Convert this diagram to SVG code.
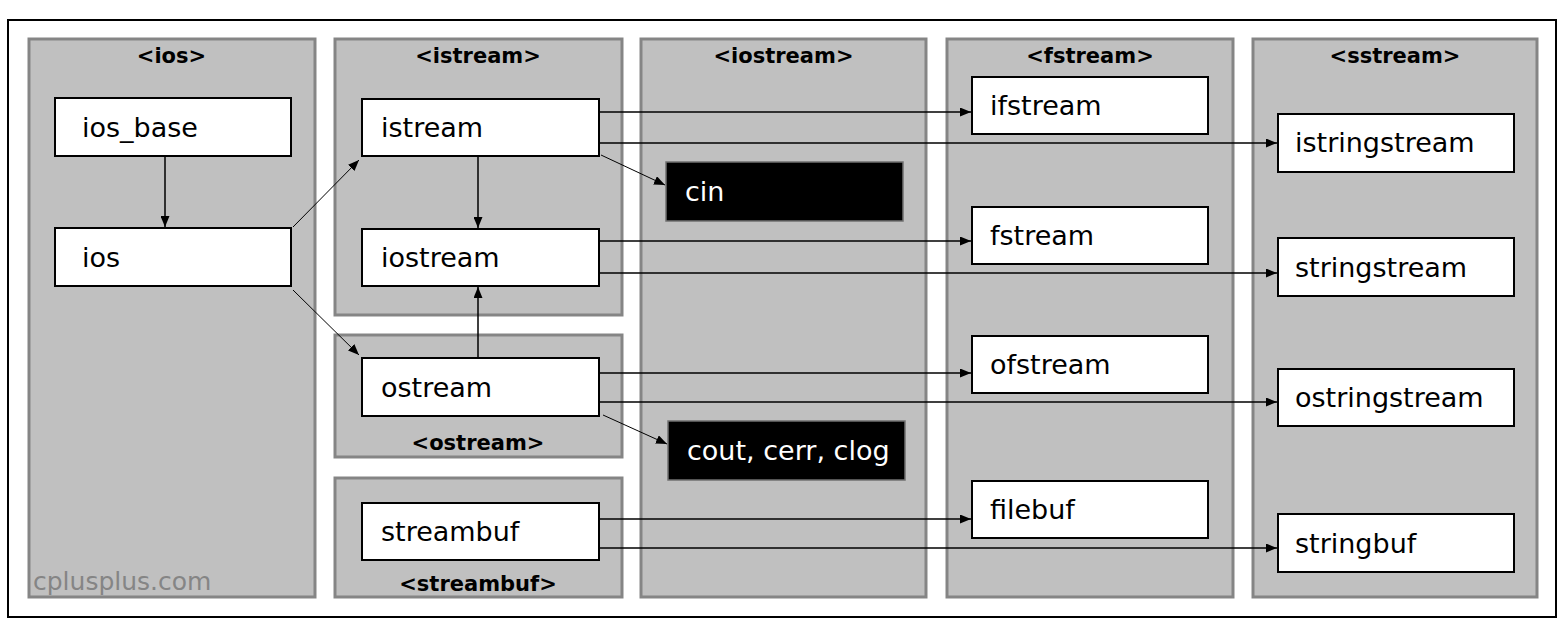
<svg xmlns="http://www.w3.org/2000/svg" width="1566" height="634" viewBox="0 0 1566 634">
<style>
.frame{fill:#fff;stroke:#000;stroke-width:2}
.panel{fill:#c0c0c0;stroke:#858585;stroke-width:3}
.hdr{font-family:"DejaVu Sans",sans-serif;font-weight:bold;font-size:21px;fill:#000;text-anchor:middle}
.box{fill:#fff;stroke:#000;stroke-width:2}
.bbox{fill:#000;stroke:#707070;stroke-width:1.5}
.lbl{font-family:"DejaVu Sans",sans-serif;font-size:27px;fill:#000}
.wlbl{font-family:"DejaVu Sans",sans-serif;font-size:27px;fill:#fff}
.wm{font-family:"DejaVu Sans",sans-serif;font-size:25px;fill:#858585}
.c{stroke:#000;stroke-width:1.5;fill:none;marker-end:url(#ah)}
.d{stroke:#000;stroke-width:1;fill:none;marker-end:url(#ah)}
</style>
<defs>
<marker id="ah" markerUnits="userSpaceOnUse" markerWidth="11" markerHeight="9" refX="11" refY="4.5" orient="auto">
<path d="M0,0 L11,4.5 L0,9 z" fill="#000"/>
</marker>
</defs>
<rect class="frame" x="8" y="20" width="1548" height="597"/>

<g id="panel-ios"><rect class="panel" x="29" y="39" width="286" height="558"/><text class="hdr" x="171.5" y="63">&lt;ios&gt;</text><text class="wm" x="33" y="590">cplusplus.com</text></g>
<g id="panel-istream"><rect class="panel" x="335" y="39" width="287" height="276"/><text class="hdr" x="478" y="63">&lt;istream&gt;</text></g>
<g id="panel-ostream"><rect class="panel" x="335" y="335" width="287" height="122"/><text class="hdr" x="478" y="450">&lt;ostream&gt;</text></g>
<g id="panel-streambuf"><rect class="panel" x="335" y="478" width="287" height="119"/><text class="hdr" x="478" y="591">&lt;streambuf&gt;</text></g>
<g id="panel-iostream"><rect class="panel" x="641" y="39" width="285" height="558"/><text class="hdr" x="783.5" y="63">&lt;iostream&gt;</text></g>
<g id="panel-fstream"><rect class="panel" x="947" y="39" width="286" height="558"/><text class="hdr" x="1090" y="63">&lt;fstream&gt;</text></g>
<g id="panel-sstream"><rect class="panel" x="1253" y="39" width="284" height="558"/><text class="hdr" x="1395" y="63">&lt;sstream&gt;</text></g>

<g id="connectors">
<line class="c" x1="165" y1="157" x2="165" y2="227"/>
<line class="d" x1="293" y1="227" x2="359" y2="160"/>
<line class="d" x1="293" y1="290" x2="359" y2="355"/>
<line class="c" x1="478" y1="157" x2="478" y2="228"/>
<line class="c" x1="478" y1="357" x2="478" y2="287"/>
<line class="d" x1="601" y1="155" x2="665" y2="185"/>
<line class="d" x1="603" y1="415" x2="667" y2="444"/>
<line class="c" x1="600" y1="112" x2="971" y2="112"/>
<line class="c" x1="600" y1="143" x2="1277" y2="143"/>
<line class="c" x1="600" y1="241" x2="971" y2="241"/>
<line class="c" x1="600" y1="273" x2="1277" y2="273"/>
<line class="c" x1="600" y1="373" x2="971" y2="373"/>
<line class="c" x1="600" y1="402" x2="1277" y2="402"/>
<line class="c" x1="600" y1="519" x2="971" y2="519"/>
<line class="c" x1="600" y1="548" x2="1277" y2="548"/>
</g>

<g id="n-ios_base"><rect class="box" x="55" y="98" width="236" height="58"/><text class="lbl" x="82" y="137">ios_base</text></g>
<g id="n-ios"><rect class="box" x="55" y="228" width="236" height="58"/><text class="lbl" x="82" y="267">ios</text></g>
<g id="n-istream"><rect class="box" x="362" y="99" width="237" height="57"/><text class="lbl" x="381" y="137">istream</text></g>
<g id="n-iostream"><rect class="box" x="362" y="229" width="237" height="57"/><text class="lbl" x="381" y="267">iostream</text></g>
<g id="n-ostream"><rect class="box" x="362" y="358" width="237" height="58"/><text class="lbl" x="381" y="397">ostream</text></g>
<g id="n-streambuf"><rect class="box" x="362" y="503" width="237" height="57"/><text class="lbl" x="381" y="541">streambuf</text></g>
<g id="n-cin"><rect class="bbox" x="666" y="162" width="237" height="59"/><text class="wlbl" x="685" y="201">cin</text></g>
<g id="n-cout"><rect class="bbox" x="668" y="421" width="237" height="59"/><text class="wlbl" x="687" y="460">cout, cerr, clog</text></g>
<g id="n-ifstream"><rect class="box" x="972" y="77" width="236" height="57"/><text class="lbl" x="990" y="115">ifstream</text></g>
<g id="n-fstream"><rect class="box" x="972" y="207" width="236" height="57"/><text class="lbl" x="990" y="245">fstream</text></g>
<g id="n-ofstream"><rect class="box" x="972" y="336" width="236" height="57"/><text class="lbl" x="990" y="374">ofstream</text></g>
<g id="n-filebuf"><rect class="box" x="972" y="481" width="236" height="57"/><text class="lbl" x="990" y="519">filebuf</text></g>
<g id="n-istringstream"><rect class="box" x="1278" y="114" width="236" height="58"/><text class="lbl" x="1295" y="152">istringstream</text></g>
<g id="n-stringstream"><rect class="box" x="1278" y="238" width="236" height="58"/><text class="lbl" x="1295" y="277">stringstream</text></g>
<g id="n-ostringstream"><rect class="box" x="1278" y="369" width="236" height="57"/><text class="lbl" x="1295" y="407">ostringstream</text></g>
<g id="n-stringbuf"><rect class="box" x="1278" y="514" width="236" height="58"/><text class="lbl" x="1295" y="553">stringbuf</text></g>
</svg>
